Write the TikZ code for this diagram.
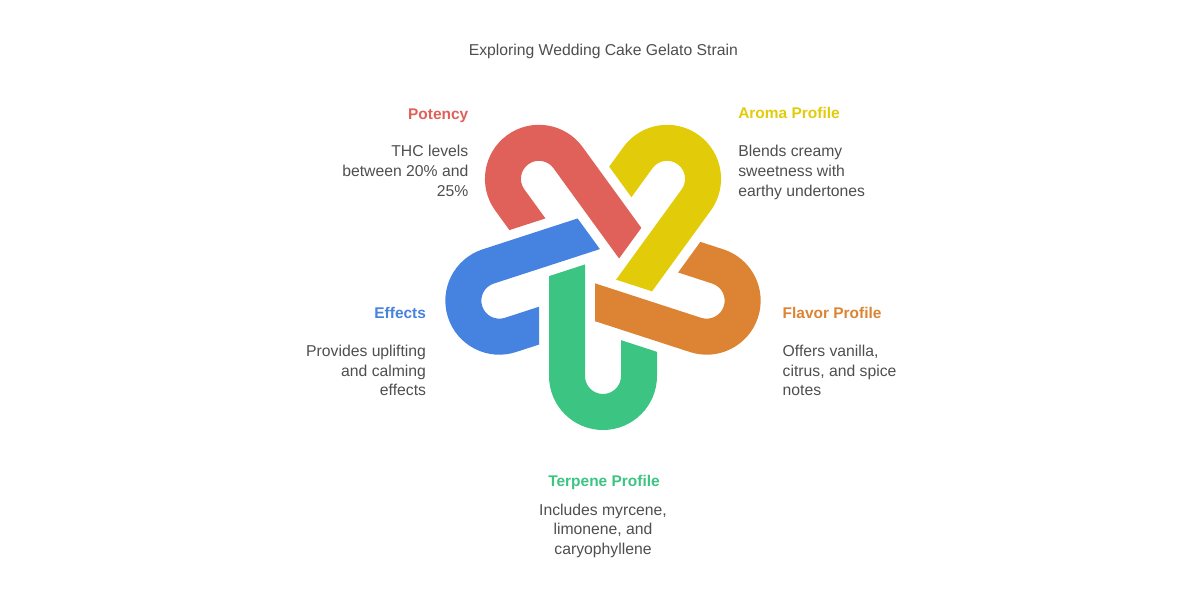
\documentclass[tikz,border=0pt]{standalone}
\usepackage{fontspec}
\setmainfont{Liberation Sans}
\definecolor{cred}{HTML}{E0605A}
\definecolor{cyellow}{HTML}{E2CC0A}
\definecolor{corange}{HTML}{DC8433}
\definecolor{cgreen}{HTML}{3CC482}
\definecolor{cblue}{HTML}{4682E0}
\definecolor{ctext}{HTML}{4E4E4E}
\tikzset{
  txt/.style={inner sep=0pt, outer sep=0pt, text=ctext, font=\fontsize{11.8}{14.8}\selectfont},
  head/.style={inner sep=0pt, outer sep=0pt, font=\fontsize{11.6}{14.8}\selectfont\bfseries},
}
\begin{document}
\begin{tikzpicture}[x=0.75pt,y=0.75pt]
\useasboundingbox (0,0) rectangle (1200,-600);
% five interlocking hairpins (green drawn in local frame, rotated by 72 deg steps)
\foreach \c/\k in {cgreen/0, corange/1, cyellow/2, cred/3, cblue/4}{
  \fill[\c, shift={(603,-267)}, rotate=72*\k]
    (-54,-9.13) -- (-18,2.56) -- (-18,-109)
    arc[start angle=180, end angle=360, radius=18]
    -- (18,-73.14) -- (54,-84.84) -- (54,-109)
    arc[start angle=0, end angle=-180, radius=54] -- cycle;
}
% title
\node[txt, anchor=base] (title) at (603.3,-55) {Exploring Wedding Cake Gelato Strain};
% potency
\node[head, text=cred, anchor=base east] (potH) at (468.3,-119) {Potency};
\node[txt, anchor=north east, align=right] (potT) at (468.3,-145.3) {THC levels\\between 20\% and\\25\%};
% aroma
\node[head, text=cyellow, anchor=base west] (aroH) at (738.3,-118.7) {Aroma Profile};
\node[txt, anchor=north west, align=left] (aroT) at (738.3,-145.3) {Blends creamy\\sweetness with\\earthy undertones};
% effects
\node[head, text=cblue, anchor=base east] (effH) at (426,-318.3) {Effects};
\node[txt, anchor=north east, align=right] (effT) at (426,-345) {Provides uplifting\\and calming\\effects};
% flavor
\node[head, text=corange, anchor=base west] (flaH) at (782.7,-318.3) {Flavor Profile};
\node[txt, anchor=north west, align=left] (flaT) at (782.7,-345) {Offers vanilla,\\citrus, and spice\\notes};
% terpene
\node[head, text=cgreen, anchor=base] (terH) at (604,-486) {Terpene Profile};
\node[txt, anchor=north, align=center] (terT) at (603,-503.6) {Includes myrcene,\\limonene, and\\caryophyllene};
\end{tikzpicture}
\end{document}
